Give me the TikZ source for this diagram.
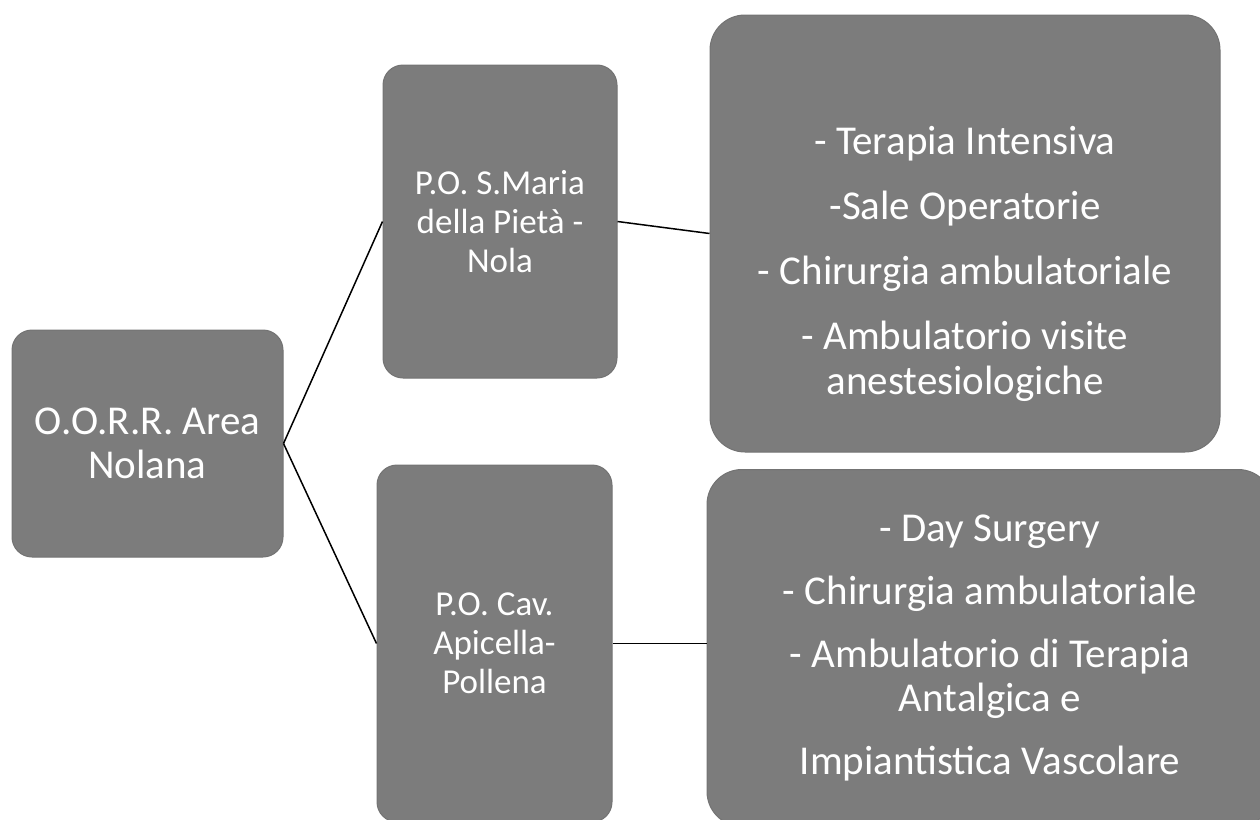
\documentclass[tikz,border=0pt]{standalone}
\usepackage{fontspec}
\setmainfont{Carlito}
\definecolor{boxgray}{RGB}{124,124,124}

\begin{document}
\begin{tikzpicture}[x = 1pt, y = -1pt,
		box/.style = {draw = black!55, line width = 1pt, fill = boxgray, rounded corners = 20pt, text = white, align = center, inner sep = 0pt, font = \fontsize{35}{39}\selectfont},
		list/.style = {text = white, align = center, inner sep = 0pt, font = \fontsize{41}{45}\selectfont},
		link/.style = {black, line width = 1.5pt}]

		\useasboundingbox (0, 0) rectangle (1260, 819);
		\clip (0, 0) rectangle (1260, 819);

		\node[box, minimum width = 271, minimum height = 227, font = \fontsize{41}{44}\selectfont] (area) at (147.5, 443.5) {O.O.R.R. Area\\Nolana};

		\node[box, minimum width = 234, minimum height = 313] (smaria) at (500, 221.5) {P.O. S.Maria\\della Pietà -\\Nola};
		\node[box, minimum width = 235, minimum height = 357] (cav) at (494.5, 643.5) {P.O. Cav.\\Apicella-\\Pollena};

		\node[box, rounded corners = 35pt, minimum width = 510, minimum height = 437] (repnola) at (965, 233.5) {};
		\node[list] (listnola) at (965, 264)
			{- Terapia Intensiva\\[20pt]-Sale Operatorie\\[20pt]- Chirurgia ambulatoriale\\[20pt]- Ambulatorio visite\\anestesiologiche};
		\node[box, rounded corners = 35pt, minimum width = 566, minimum height = 357, font = \fontsize{41}{44}\selectfont] (reppollena) at (990, 648)
			{- Day Surgery\\[19pt]- Chirurgia ambulatoriale\\[19pt]- Ambulatorio di Terapia\\Antalgica e\\[19pt]Impiantistica Vascolare};

		\draw[link] (area.east) -- (smaria.west);
		\draw[link] (area.east) -- (cav.west);
		\draw[link] (smaria.east) -- (repnola.west);
		\draw[link] (cav.east) -- (cav.east -| reppollena.west);

	\end{tikzpicture}
\end{document}
